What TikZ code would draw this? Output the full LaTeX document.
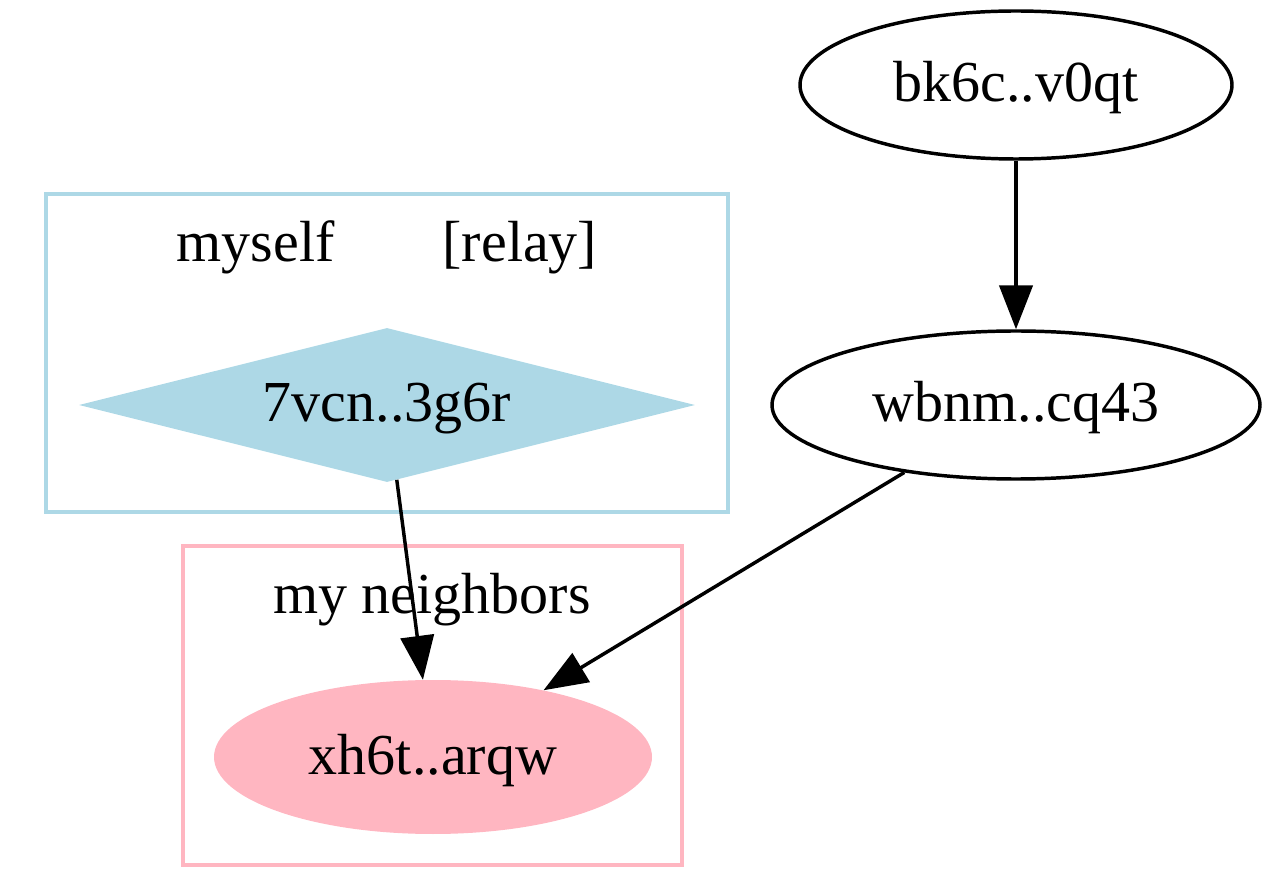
\documentclass[tikz,border=0pt]{standalone}
\usepackage{fontspec}
\setmainfont{Liberation Serif}
\usetikzlibrary{shapes.geometric,arrows.meta}
\definecolor{lblue}{HTML}{ADD8E6}
\definecolor{lpink}{HTML}{FFB6C1}
\begin{document}
\begin{tikzpicture}[x=0.75pt,y=-0.75pt,
  lbl/.style={font=\fontsize{43.5pt}{52pt}\selectfont, inner sep=0pt},
  gnode/.style={lbl, text height=34pt, text depth=8.5pt},
  oval/.style={gnode, ellipse, draw, line width=2.6pt},
  edge/.style={line width=2.6pt, -{Triangle[length=33pt,width=25pt]}},
  cluster/.style={rectangle, line width=2.6pt, inner sep=0pt}]
\useasboundingbox (0,0) rectangle (1272,873);
% clusters
\node[cluster, draw=lblue, minimum width=511.5pt, minimum height=238.5pt] (cmy) at (387,353) {};
\node[cluster, draw=lpink, minimum width=374.25pt, minimum height=239.25pt] (cnb) at (432.5,705.5) {};
\node[lbl, anchor=base] (lmy) at (387,262) {myself\hspace{81pt}[relay]};
\node[lbl, anchor=base] (lnb) at (432,614) {my neighbors};
% nodes
\node[oval, minimum width=324pt, minimum height=111pt] (bk) at (1016,85) {bk6c..v0qt};
\node[oval, minimum width=366pt, minimum height=111pt] (wb) at (1016,405) {wbnm..cq43};
\node[gnode, diamond, aspect=4, fill=lblue, minimum width=462pt, minimum height=115.5pt] (vc) at (387,405) {7vcn..3g6r};
\node[gnode, ellipse, fill=lpink, minimum width=328.5pt, minimum height=115.5pt] (xh) at (433,757) {xh6t..arqw};
% edges
\draw[edge] (bk) -- (wb);
\draw[edge] (vc) -- (xh);
\draw[edge] (wb) -- (xh);
\end{tikzpicture}
\end{document}
